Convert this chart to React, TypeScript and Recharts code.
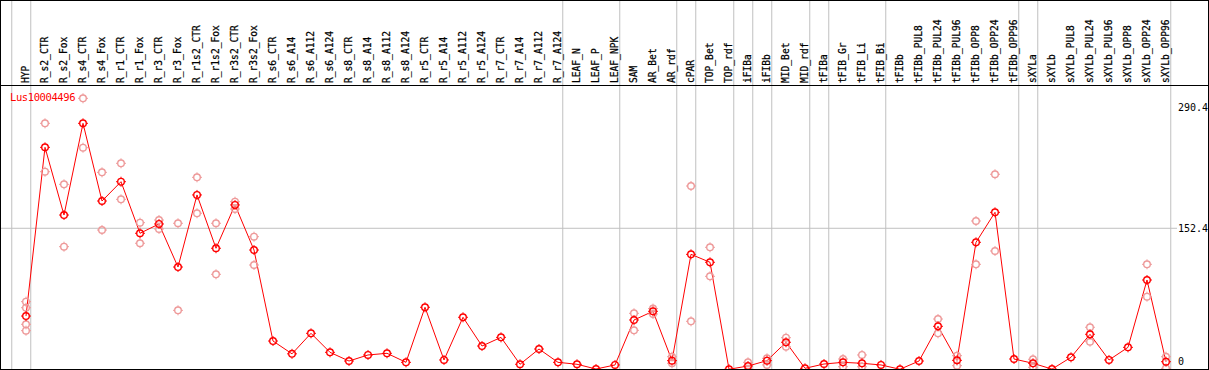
import React from 'react';
import {
    ComposedChart, Line, Scatter, XAxis, YAxis, ReferenceLine,
} from 'recharts';

const categories = [
    'HYP', 'R_s2_CTR', 'R_s2_Fox', 'R_s4_CTR', 'R_s4_Fox', 'R_r1_CTR', 'R_r1_Fox', 'R_r3_CTR', 'R_r3_Fox',
    'R_r1s2_CTR', 'R_r1s2_Fox', 'R_r3s2_CTR', 'R_r3s2_Fox', 'R_s6_CTR', 'R_s6_A14', 'R_s6_A112', 'R_s6_A124',
    'R_s8_CTR', 'R_s8_A14', 'R_s8_A112', 'R_s8_A124', 'R_r5_CTR', 'R_r5_A14', 'R_r5_A112', 'R_r5_A124',
    'R_r7_CTR', 'R_r7_A14', 'R_r7_A112', 'R_r7_A124', 'LEAF_N', 'LEAF_P', 'LEAF_NPK', 'SAM', 'AR_Bet', 'AR_rdf',
    'cPAR', 'TOP_Bet', 'TOP_rdf', 'iFIBa', 'iFIBb', 'MID_Bet', 'MID_rdf', 'tFIBa', 'tFIB_Gr', 'tFIB_Li', 'tFIB_Bi',
    'tFIBb', 'tFIBb_PUL8', 'tFIBb_PUL24', 'tFIBb_PUL96', 'tFIBb_OPP8', 'tFIBb_OPP24', 'tFIBb_OPP96',
    'sXYLa', 'sXYLb', 'sXYLb_PUL8', 'sXYLb_PUL24', 'sXYLb_PUL96', 'sXYLb_OPP8', 'sXYLb_OPP24', 'sXYLb_OPP96',
];

const means = [
    52.3, 244.7, 167.5, 272.1, 183.5, 205.5, 146.7, 157.3, 108.2, 190.4, 129.6, 179.0, 127.6, 23.8, 9.2, 32.6,
    10.9, 1.0, 7.9, 9.8, -0.5, 62.3, 2.2, 50.9, 18.1, 28.0, -2.7, 14.7, -0.5, -2.7, -8.1, -3.5, 47.8, 57.7, 1.4,
    122.7, 113.6, -8.4, -4.7, 1.4, 22.4, -7.3, -2.4, -0.5, -1.6, -3.5, -8.4, 1.0, 40.6, 1.8, 136.4, 170.6, 3.3,
    -1.6, -8.2, 5.2, 31.5, 2.2, 16.6, 93.4, 0.2,
];

// individual replicates, per category (only those visible apart from the mean)
const replicates: number[][] = [
    [68.7, 61.8, 42.9, 35.6], [272.1, 216.9], [202.5, 131.4], [300.6, 244.3], [216.2, 150.4],
    [226.5, 185.4], [158.8, 135.3], [161.8, 151.6], [158.1, 58.8], [210.5, 169.5], [158.1, 99.9],
    [182.7, 174.4], [142.8, 110.5], [], [], [], [], [], [], [], [], [], [], [], [], [], [], [], [], [], [], [],
    [55.4, 36.0], [54.6, 60.8], [5.9, -1.6], [200.6, 46.3], [130.7, 97.6], [], [-0.5, -8.9], [4.1, -3.5],
    [27.6, 17.3], [], [], [3.3, -5.5], [7.9, -5.5], [], [], [], [48.9, 32.6], [7.1, -4.3], [160.7, 111.3],
    [214.0, 126.5], [], [3.0, -6.2], [], [], [39.5, 23.0], [], [], [111.3, 74.4], [5.9, -7.3],
];

// last category index of each group (separators drawn after them)
const groupEnds = [-1, 0, 28, 31, 34, 35, 37, 38, 39, 41, 42, 45, 52, 53, 60];
const yTicks = [290.4, 152.4, 0];
const geneName = 'Lus10004496';

const lineData = means.map((v, i) => ({ x: i, y: v }));
const repData = replicates.flatMap((reps, i) => reps.map((v) => ({ x: i, y: v })));

const FONT = '"DejaVu Sans Mono", monospace';

function Marker({ cx, cy, color, fill }: { cx: number; cy: number; color: string; fill: string }) {
    const d = `M${cx},${cy - 5}v1.6M${cx},${cy + 3.4}v1.6M${cx - 5},${cy}h1.6M${cx + 3.4},${cy}h1.6`;
    return (
        <g>
            <circle cx={cx} cy={cy} r={3.3} stroke={color} strokeWidth={1.4} fill={fill} />
            <path d={d} stroke={color} strokeWidth={1} />
        </g>
    );
}

function CategoryTick(props: any) {
    const { x, payload } = props;
    const name = categories[payload.value];
    if (!name) return null;
    return (
        <text
            x={x}
            y={83}
            dy="0.3em"
            transform={`rotate(-90, ${x}, 83)`}
            textAnchor="start"
            fontFamily={FONT}
            fontSize={9.6}
            fill="#000"
            stroke="#000"
            strokeWidth={0.25}
        >
            {name}
        </text>
    );
}

function ValueLabel(props: any) {
    const { viewBox, value } = props;
    const x = viewBox.x + viewBox.width - 31;
    return (
        <g>
            <rect x={x - 1} y={viewBox.y - 6} width={31} height={12} fill="#fff" />
            <text x={x} y={viewBox.y} dy="0.35em" fontFamily={FONT} fontSize={10} fill="#000">
                {value}
            </text>
        </g>
    );
}

export default function App() {
    return (
        <div style={{ position: 'absolute', left: 0, top: 0, width: 1209, height: 370, background: '#fff' }}>
            <ComposedChart width={1209} height={370} margin={{ top: 0, right: 0, bottom: 0, left: 0 }}>
                <XAxis
                    type="number"
                    dataKey="x"
                    orientation="top"
                    height={1}
                    domain={[-26 / 19, 1183 / 19]}
                    allowDataOverflow
                    ticks={categories.map((_, i) => i)}
                    interval={0}
                    axisLine={false}
                    tickLine={false}
                    tick={(p: any) => <CategoryTick key={p.index} {...p} />}
                />
                <YAxis type="number" dataKey="y" hide domain={[-9.24, 411.6]} allowDataOverflow />
                {groupEnds.map((g) => (
                    <ReferenceLine key={g} x={g + 0.25} stroke="#c0c0c0" strokeWidth={1} />
                ))}
                {yTicks.map((t) => (
                    <ReferenceLine
                        key={t}
                        y={t}
                        stroke={t === 152.4 ? '#c0c0c0' : 'none'}
                        strokeWidth={1}
                        label={<ValueLabel value={String(t)} />}
                    />
                ))}
                <Scatter
                    data={repData}
                    isAnimationActive={false}
                    shape={(p: any) => <Marker cx={p.cx} cy={p.cy} color="#ee9a9a" fill="none" />}
                />
                <Line
                    data={lineData}
                    dataKey="y"
                    type="linear"
                    stroke="#ff0000"
                    strokeWidth={1}
                    isAnimationActive={false}
                    dot={(p: any) => <Marker key={p.index} cx={p.cx} cy={p.cy} color="#ff0000" fill="none" />}
                    activeDot={false}
                />
            </ComposedChart>
            <div style={{ position: 'absolute', left: 0, top: 85, width: 1209, height: 0, borderTop: '1px solid #000' }} />
            <div
                style={{
                    position: 'absolute', left: 0, top: 0, width: 1207, height: 368,
                    border: '1px solid #000', pointerEvents: 'none',
                }}
            />
            <div
                style={{
                    position: 'absolute', left: 10, top: 90, fontFamily: FONT, fontSize: 10.5,
                    color: '#ff0000', lineHeight: '14px', letterSpacing: -0.4,
                }}
            >
                {geneName}
            </div>
        </div>
    );
}
